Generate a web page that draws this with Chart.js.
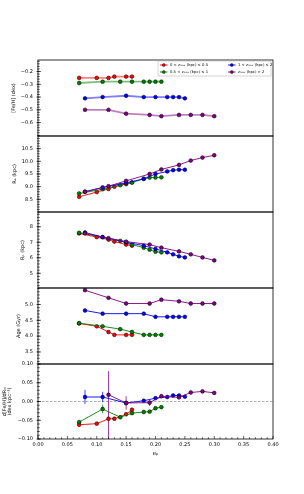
<!DOCTYPE html>
<html>
<head>
<meta charset="utf-8">
<script src="https://cdn.jsdelivr.net/npm/chart.js@4.4.0/dist/chart.umd.min.js"></script>
<style>
  html, body { margin: 0; padding: 0; background: #fff; }
  #wrap { position: relative; width: 304px; height: 494px; }
  #wrap canvas { position: absolute; left: 0; top: 0; }
</style>
</head>
<body>
<div id="wrap">
  <canvas id="p0" width="304" height="494"></canvas>
  <canvas id="p1" width="304" height="494"></canvas>
  <canvas id="p2" width="304" height="494"></canvas>
  <canvas id="p3" width="304" height="494"></canvas>
  <canvas id="p4" width="304" height="494"></canvas>
</div>
<script>
// eccentricity bins of each z_max group
const epRed = [0.07, 0.10, 0.12, 0.13, 0.15, 0.16];
const epGreen = [0.07, 0.11, 0.14, 0.16, 0.18, 0.19, 0.20, 0.21];
const epBlue = [0.08, 0.11, 0.15, 0.18, 0.20, 0.22, 0.23, 0.24, 0.25];
const epPurple = [0.08, 0.12, 0.15, 0.19, 0.21, 0.24, 0.26, 0.28, 0.30];

// [Fe/H]
const fehRed = [-0.25, -0.25, -0.25, -0.24, -0.24, -0.24];
const fehGreen = [-0.29, -0.28, -0.28, -0.28, -0.28, -0.28, -0.28, -0.28];
const fehBlue = [-0.41, -0.40, -0.39, -0.40, -0.40, -0.40, -0.40, -0.40, -0.41];
const fehPurple = [-0.50, -0.50, -0.53, -0.54, -0.55, -0.54, -0.54, -0.54, -0.55];

// apocentre
const raRed = [8.60, 8.79, 8.91, 9.00, 9.10, 9.17];
const raGreen = [8.73, 8.90, 9.06, 9.16, 9.31, 9.36, 9.36, 9.37];
const raBlue = [8.80, 8.97, 9.15, 9.31, 9.50, 9.60, 9.65, 9.67, 9.67];
const raPurple = [8.80, 9.02, 9.23, 9.50, 9.68, 9.86, 10.03, 10.15, 10.24];

// pericentre
const rpRed = [7.57, 7.33, 7.17, 7.04, 6.85, 6.78];
const rpGreen = [7.61, 7.33, 7.09, 6.85, 6.65, 6.52, 6.39, 6.35];
const rpBlue = [7.63, 7.33, 7.00, 6.78, 6.57, 6.35, 6.22, 6.09, 6.02];
const rpPurple = [7.57, 7.26, 7.04, 6.85, 6.65, 6.41, 6.22, 6.02, 5.83];

// age
const ageRed = [4.40, 4.31, 4.13, 4.04, 4.04, 4.04];
const ageGreen = [4.41, 4.31, 4.22, 4.13, 4.04, 4.04, 4.04, 4.04];
const ageBlue = [4.81, 4.71, 4.71, 4.71, 4.61, 4.61, 4.61, 4.61, 4.61];
const agePurple = [5.45, 5.21, 5.03, 5.03, 5.15, 5.10, 5.03, 5.03, 5.03];

// radial gradient and its errors
const gradRed = [-0.062, -0.059, -0.046, -0.046, -0.034, -0.022];
const gradGreen = [-0.055, -0.020, -0.042, -0.031, -0.028, -0.027, -0.018, -0.015];
const gradBlue = [0.012, 0.012, -0.004, 0.002, 0.009, 0.012, 0.016, 0.016, 0.013];
const gradPurple = [null, 0.018, -0.004, -0.003, 0.014, 0.011, 0.024, 0.027, 0.023];
const errRed = [0.003, 0.003, 0.003, 0.003, 0.004, 0.005];
const errGreen = [0.004, 0.012, 0.005, 0.003, 0.003, 0.003, 0.003, 0.003];
const errBlue = [0.019, 0.014, 0.004, 0.003, 0.003, 0.003, 0.003, 0.003, 0.003];
const errPurpleUp = [0, 0.063, 0.018, 0.009, 0.004, 0.004, 0.003, 0.003, 0.003];
const errPurpleDown = [0, 0.13, 0.018, 0.009, 0.004, 0.004, 0.003, 0.003, 0.003];

// tick labels
const epTicks = [0, 0.05, 0.10, 0.15, 0.20, 0.25, 0.30, 0.35, 0.40];
const fehTicks = [-0.2, -0.3, -0.4, -0.5, -0.6];
const raTicks = [8.5, 9.0, 9.5, 10.0, 10.5];
const rpTicks = [5, 6, 7, 8];
const ageTicks = [3.5, 4.0, 4.5, 5.0];
const gradTicks = [-0.10, -0.05, 0, 0.05, 0.10];

const legendLabels = ['0 < zₘₐₓ (kpc) ≤ 0.5', '0.5 < zₘₐₓ (kpc) ≤ 1', '1 < zₘₐₓ (kpc) ≤ 2', 'zₘₐₓ (kpc) > 2'];
const colors = ['#ff0000', '#008000', '#0000ff', '#800080'];
const fadedColors = ['rgba(255,0,0,0.5)', 'rgba(0,128,0,0.5)', 'rgba(0,0,255,0.5)', 'rgba(128,0,128,0.5)'];
const epAll = [epRed, epGreen, epBlue, epPurple];

const FONT = 'DejaVu Sans';
const LEFT = 38, RIGHT = 273, H = 494;
const tops = [60, 136, 212, 288, 364];
const bottoms = [136, 212, 288, 364, 439];
const minus = s => s.replace('-', '\u2212');

// box, inward ticks, zero line, error bars, legend
const framePlugin = {
  id: 'frame',
  beforeDatasetsDraw(chart, args, o) {
    const { ctx, chartArea: a, scales: { x, y } } = chart;
    ctx.save();
    if (o.zeroLine) {
      ctx.strokeStyle = '#888';
      ctx.lineWidth = 0.7;
      ctx.setLineDash([2.5, 1.5]);
      const py = y.getPixelForValue(0);
      ctx.beginPath(); ctx.moveTo(a.left, py); ctx.lineTo(a.right, py); ctx.stroke();
      ctx.setLineDash([]);
    }
    if (o.errors) {
      ctx.beginPath();
      ctx.rect(a.left, a.top, a.right - a.left, a.bottom - a.top);
      ctx.clip();
      o.errors.forEach((e, k) => {
        ctx.strokeStyle = fadedColors[k].replace('0.5)', '0.75)');
        ctx.lineWidth = 1;
        e.vals.forEach((v, i) => {
          if (v === null) return;
          const px = x.getPixelForValue(epAll[k][i]);
          ctx.beginPath();
          ctx.moveTo(px, y.getPixelForValue(v + e.up[i]));
          ctx.lineTo(px, y.getPixelForValue(v - e.down[i]));
          ctx.stroke();
        });
      });
    }
    ctx.restore();
  },
  afterDatasetsDraw(chart, args, o) {
    const { ctx, chartArea: a, scales: { x, y } } = chart;
    ctx.save();
    ctx.strokeStyle = '#000';
    ctx.lineWidth = 0.8;
    ctx.strokeRect(a.left, a.top, a.right - a.left, a.bottom - a.top);
    ctx.lineWidth = 0.6;
    // y ticks
    const n0 = Math.ceil(y.min / o.yMinor - 1e-6), n1 = Math.floor(y.max / o.yMinor + 1e-6);
    for (let n = n0; n <= n1; n++) {
      const py = y.getPixelForValue(n * o.yMinor);
      ctx.beginPath(); ctx.moveTo(a.left - 1, py); ctx.lineTo(a.left + 1.8, py); ctx.stroke();
    }
    y.ticks.forEach(t => {
      const py = y.getPixelForValue(t.value);
      ctx.beginPath(); ctx.moveTo(a.left - 1.5, py); ctx.lineTo(a.left + 3, py); ctx.stroke();
    });
    if (o.xTicks) {
      for (let n = 0; n <= 40; n++) {
        const px = x.getPixelForValue(n * 0.01);
        ctx.beginPath(); ctx.moveTo(px, a.bottom); ctx.lineTo(px, a.bottom - (n % 5 === 0 ? 3 : 1.8)); ctx.stroke();
      }
    }
    if (o.legend) {
      ctx.fillStyle = 'rgba(255,255,255,0.85)';
      ctx.strokeStyle = '#aaa';
      ctx.lineWidth = 0.5;
      ctx.fillRect(158, 61, 113, 15);
      ctx.strokeRect(158, 61, 113, 15);
      [0, 1, 2, 3].forEach(k => {
        const cx = k < 2 ? 160 : 228;
        const cy = k % 2 === 0 ? 65 : 72;
        ctx.strokeStyle = colors[k];
        ctx.lineWidth = 0.9;
        ctx.beginPath(); ctx.moveTo(cx, cy); ctx.lineTo(cx + 7.5, cy); ctx.stroke();
        ctx.fillStyle = colors[k];
        ctx.strokeStyle = '#000';
        ctx.lineWidth = 0.4;
        ctx.beginPath(); ctx.arc(cx + 3.75, cy, 1.5, 0, Math.PI * 2); ctx.fill(); ctx.stroke();
        ctx.fillStyle = '#000';
        ctx.font = '3.8px "' + FONT + '"';
        ctx.textBaseline = 'middle';
        ctx.fillText(legendLabels[k], cx + 10, cy + 0.3);
      });
    }
    ctx.restore();
  }
};

function makeSets(vals, faded) {
  return vals.map((v, k) => ({
    data: epAll[k].map((e, i) => ({ x: e, y: v[i] })),
    borderColor: faded ? fadedColors[k] : colors[k],
    borderWidth: faded ? 1.8 : 0.9,
    pointBackgroundColor: colors[k],
    pointBorderColor: '#000',
    pointBorderWidth: 0.5,
    pointRadius: 1.9,
    tension: 0,
    order: 3 - k
  }));
}

function makePanel(i, vals, yCfg, extra) {
  const last = i === 4;
  return new Chart(document.getElementById('p' + i), {
    type: 'line',
    data: { datasets: makeSets(vals, i === 0) },
    options: {
      responsive: false,
      animation: false,
      layout: { padding: { top: tops[i], bottom: H - bottoms[i] - (last ? 18 : 0), left: 0, right: 304 - RIGHT } },
      plugins: {
        legend: { display: false },
        tooltip: { enabled: false },
        frame: Object.assign({ yMinor: yCfg.minor }, extra)
      },
      scales: {
        x: {
          type: 'linear', min: 0, max: 0.4,
          display: last,
          afterBuildTicks: s => { s.ticks = epTicks.map(v => ({ value: v })); },
          afterFit: s => { s.height = last ? 18 : 0; },
          grid: { display: false, drawTicks: false },
          border: { display: false },
          ticks: { autoSkip: false, maxRotation: 0, padding: 3, color: '#000', font: { family: FONT, size: 5 }, callback: v => v.toFixed(2) },
          title: { display: true, text: 'eₚ', color: '#000', font: { family: FONT, size: 5.5 }, padding: { top: 2, bottom: 0 } }
        },
        y: {
          min: yCfg.min, max: yCfg.max,
          afterBuildTicks: s => { s.ticks = yCfg.ticks.map(v => ({ value: v })); },
          afterFit: s => { s.width = LEFT; },
          grid: { display: false, drawTicks: false },
          border: { display: false },
          ticks: { autoSkip: false, padding: 5, color: '#000', font: { family: FONT, size: 5 }, callback: v => minus(v.toFixed(yCfg.dec)) },
          title: { display: true, text: yCfg.title, color: '#000', font: { family: FONT, size: 5, lineHeight: yCfg.lh || 1.2 }, padding: { top: yCfg.tp, bottom: 0 } }
        }
      }
    },
    plugins: [framePlugin]
  });
}

makePanel(0, [fehRed, fehGreen, fehBlue, fehPurple],
  { min: -0.705, max: -0.11, ticks: fehTicks, dec: 1, minor: 0.02, title: '[Fe/H] (dex)', tp: 11 }, { legend: true });
makePanel(1, [raRed, raGreen, raBlue, raPurple],
  { min: 8.0, max: 11.0, ticks: raTicks, dec: 1, minor: 0.1, title: 'Rₐ (kpc)', tp: 12 }, {});
makePanel(2, [rpRed, rpGreen, rpBlue, rpPurple],
  { min: 4.05, max: 8.95, ticks: rpTicks, dec: 0, minor: 0.2, title: 'Rₚ (kpc)', tp: 20 }, {});
makePanel(3, [ageRed, ageGreen, ageBlue, agePurple],
  { min: 3.12, max: 5.52, ticks: ageTicks, dec: 1, minor: 0.1, title: 'Age (Gyr)', tp: 16 }, {});
makePanel(4, [gradRed, gradGreen, gradBlue, gradPurple],
  { min: -0.10, max: 0.10, ticks: gradTicks, dec: 2, minor: 0.01, title: ['d[Fe/H]/dRₘ', '(dex kpc⁻¹)'], tp: 2.3, lh: 0.95 },
  {
    zeroLine: true, xTicks: true,
    errors: [
      { vals: gradRed, up: errRed, down: errRed },
      { vals: gradGreen, up: errGreen, down: errGreen },
      { vals: gradBlue, up: errBlue, down: errBlue },
      { vals: gradPurple, up: errPurpleUp, down: errPurpleDown }
    ]
  });
</script>
</body>
</html>
